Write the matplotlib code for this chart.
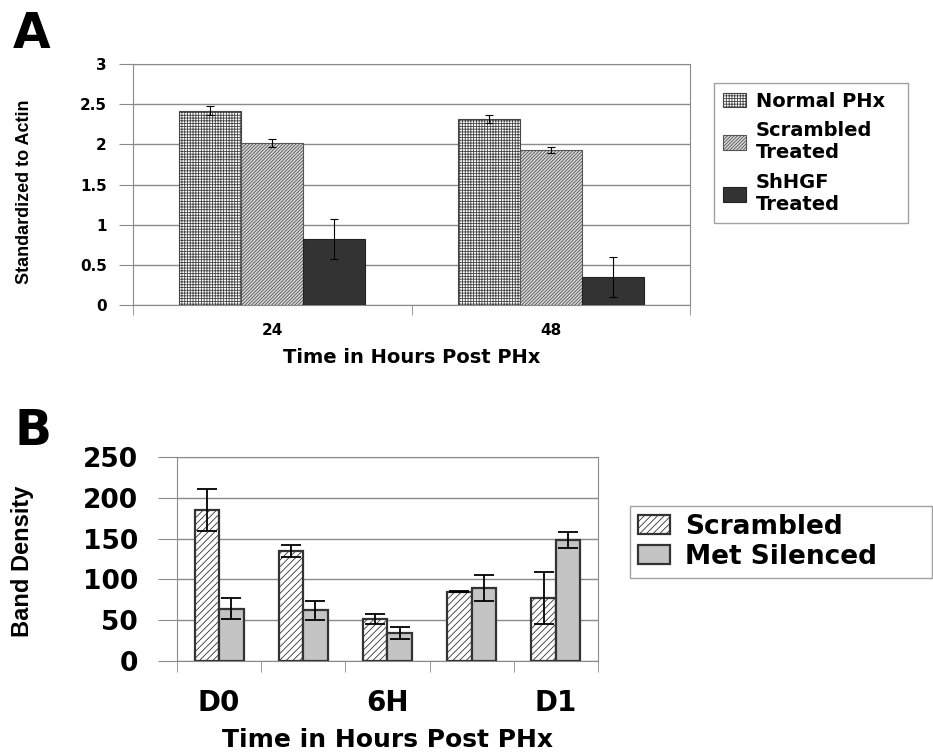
import numpy as np
import matplotlib.pyplot as plt

plt.rcParams['hatch.linewidth'] = 0.6

# Panel A data
times_a = ["24", "48"]
normal_phx = [2.42, 2.31]
normal_phx_err = [0.06, 0.05]
scrambled_treated = [2.02, 1.93]
scrambled_treated_err = [0.05, 0.04]
shhgf_treated = [0.82, 0.35]
shhgf_treated_err = [0.25, 0.25]

# Panel B data (labels of 2nd and 4th groups are hidden in the original)
times_b = ["D0", "", "6H", "", "D1"]
scrambled = [185, 135, 51, 85, 77]
scrambled_err = [26, 7, 6, 1, 32]
met_silenced = [64, 62, 34, 89, 148]
met_silenced_err = [13, 12, 7.5, 16, 10]

GRAY = '#8a8a8a'
wide = 'DejaVu Sans'
arial = 'Liberation Sans'

fig = plt.figure(figsize=(9.33, 7.56), dpi=100)

# ---------------- Panel A ----------------
ax = fig.add_axes([0.1426, 0.5966, 0.597, 0.3187])
x = np.arange(len(times_a))
w = 0.223
ekw = dict(elinewidth=0.8, capsize=3, capthick=0.8, ecolor='black')
b1 = ax.bar(x - w, normal_phx, w, color='white', edgecolor='#444444', hatch='++++++',
            lw=0.8, yerr=normal_phx_err, error_kw=ekw, zorder=3, label='Normal PHx')
b2 = ax.bar(x, scrambled_treated, w, color='#d8d8d8', edgecolor='#555555', hatch='//////////',
            lw=0.8, yerr=scrambled_treated_err, error_kw=ekw, zorder=3, label='Scrambled\nTreated')
b3 = ax.bar(x + w, shhgf_treated, w, color='#333333', edgecolor='#222222',
            lw=0.8, yerr=shhgf_treated_err, error_kw=ekw, zorder=3, label='ShHGF\nTreated')
ax.set_xlim(-0.5, 1.5)
ax.set_ylim(0, 3)
ax.set_yticks(np.arange(0, 3.01, 0.5))
ax.set_yticklabels(['0', '0.5', '1', '1.5', '2', '2.5', '3'])
ax.set_xticks(x)
ax.set_xticklabels(times_a)
ax.set_xticks([-0.5, 0.5, 1.5], minor=True)
ax.tick_params(axis='x', which='major', length=0, pad=13)
ax.tick_params(axis='x', which='minor', length=7, color=GRAY, direction='out')
ax.tick_params(axis='y', length=10, color=GRAY, pad=9)
ax.yaxis.grid(True, color=GRAY, lw=1)
ax.set_axisbelow(True)
for s in ax.spines.values():
    s.set_color(GRAY)
for lab in ax.get_xticklabels() + ax.get_yticklabels():
    lab.set_fontfamily(wide)
    lab.set_fontweight('bold')
    lab.set_fontsize(11)
ax.set_xlabel('Time in Hours Post PHx', fontfamily=wide, fontweight='bold', fontsize=14, labelpad=7)
ax.set_ylabel('Standardized to Actin', fontfamily=arial, fontweight='bold', fontsize=13)
ax.yaxis.set_label_coords(-0.18, 0.47)
leg = fig.legend(handles=[b1, b2, b3], loc='upper left',
                 bbox_to_anchor=(714 / 933, 1 - 217 / 756, 194 / 933, 134 / 756), mode='expand',
                 borderaxespad=0,
                 prop=dict(family=wide, weight='bold', size=14), frameon=True, fancybox=False,
                 edgecolor=GRAY, handlelength=1.2, handleheight=0.8, handletextpad=0.5,
                 labelspacing=0.55, borderpad=0.45)
leg.get_frame().set_linewidth(1)
fig.text(0.014, 1 - 48 / 756, 'A', fontfamily=wide, fontweight='bold', fontsize=35, va='baseline')

# ---------------- Panel B ----------------
bx = fig.add_axes([0.1897, 0.1257, 0.4512, 0.2698])
xb = np.arange(len(times_b))
wb = 0.29
ekw2 = dict(elinewidth=1.3, capsize=7, capthick=1.3, ecolor='black')
c1 = bx.bar(xb - wb / 2, scrambled, wb, color='white', edgecolor='#333333', hatch='/////',
            lw=1.6, yerr=scrambled_err, error_kw=ekw2, zorder=3, label='Scrambled')
c2 = bx.bar(xb + wb / 2, met_silenced, wb, color='#c4c4c4', edgecolor='#333333',
            lw=1.6, yerr=met_silenced_err, error_kw=ekw2, zorder=3, label='Met Silenced')
bx.set_xlim(-0.5, 4.5)
bx.set_ylim(0, 250)
bx.set_yticks(np.arange(0, 251, 50))
bx.set_xticks(xb)
bx.set_xticklabels(times_b)
bx.set_xticks(np.arange(-0.5, 4.6, 1), minor=True)
bx.tick_params(axis='x', which='major', length=0, pad=20)
bx.tick_params(axis='x', which='minor', length=8, color=GRAY, direction='out')
bx.tick_params(axis='y', length=14, color=GRAY, pad=14)
bx.yaxis.grid(True, color=GRAY, lw=1)
bx.set_axisbelow(True)
for s in bx.spines.values():
    s.set_color(GRAY)
for lab in bx.get_xticklabels():
    lab.set_fontfamily(wide)
    lab.set_fontweight('bold')
    lab.set_fontsize(20)
for lab in bx.get_yticklabels():
    lab.set_fontfamily(wide)
    lab.set_fontweight('bold')
    lab.set_fontsize(19)
bx.set_xlabel('Time in Hours Post PHx', fontfamily=wide, fontweight='bold', fontsize=18, labelpad=8)
bx.set_ylabel('Band Density', fontfamily=arial, fontweight='bold', fontsize=17)
bx.yaxis.set_label_coords(-0.34, 0.49)
leg2 = fig.legend(handles=[c1, c2], loc='upper left',
                  bbox_to_anchor=(630 / 933, 1 - 577 / 756, 302 / 933, 71 / 756), mode='expand',
                  borderaxespad=0,
                  prop=dict(family=wide, weight='bold', size=19), frameon=True, fancybox=False,
                  edgecolor=GRAY, handlelength=1.2, handleheight=0.7, handletextpad=0.6,
                  labelspacing=0.15, borderpad=0.3)
leg2.get_frame().set_linewidth(1)
fig.text(0.016, 1 - 445 / 756, 'B', fontfamily=wide, fontweight='bold', fontsize=35, va='baseline')

fig.savefig('out.png', dpi=100)
